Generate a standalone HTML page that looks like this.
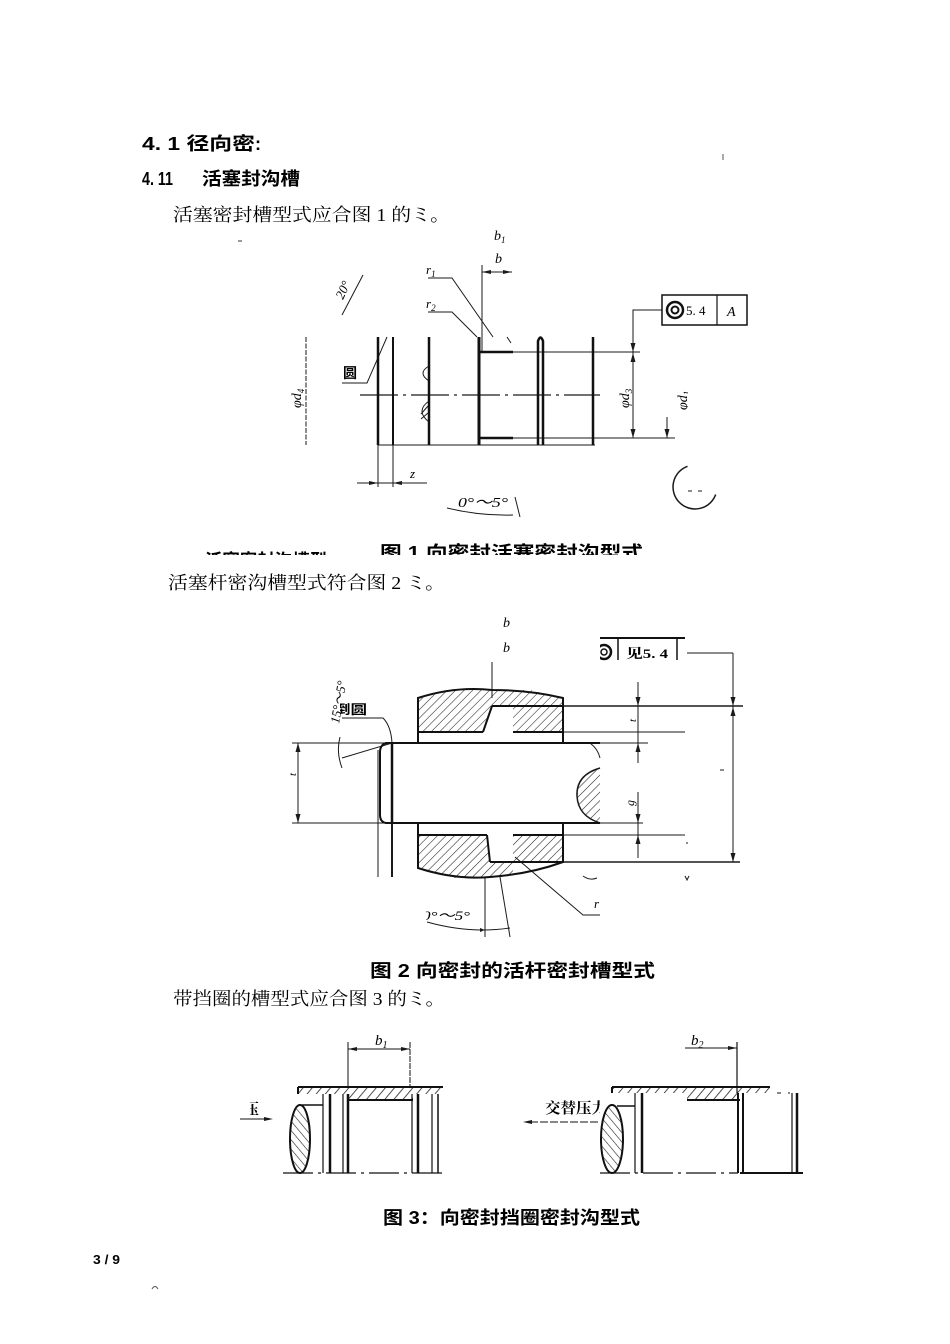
<!DOCTYPE html>
<html><head><meta charset="utf-8"><style>
html,body{margin:0;padding:0;background:#fff;}
svg{display:block}
.t{font-family:"Liberation Serif","Noto Serif CJK SC",serif;}
.h{font-family:"Liberation Sans","Noto Sans CJK SC",sans-serif;font-weight:bold;}
.i{font-family:"Liberation Serif",serif;font-style:italic;}
</style></head><body>
<svg width="950" height="1344" viewBox="0 0 950 1344" xmlns="http://www.w3.org/2000/svg">
<defs>
<pattern id="hf" width="6" height="6" patternUnits="userSpaceOnUse" patternTransform="rotate(45)"><line x1="0" y1="0" x2="0" y2="6" stroke="#222" stroke-width="1.1"/></pattern>
<pattern id="hp" width="7" height="7" patternUnits="userSpaceOnUse" patternTransform="rotate(40)"><line x1="0" y1="0" x2="0" y2="7" stroke="#222" stroke-width="1.6"/></pattern>
<pattern id="hb" width="6" height="6" patternUnits="userSpaceOnUse" patternTransform="rotate(-40)"><line x1="0" y1="0" x2="0" y2="6" stroke="#222" stroke-width="1.2"/></pattern>
<clipPath id="c1"><rect x="0" y="530" width="950" height="25"/></clipPath>
<clipPath id="c2"><rect x="0" y="0" width="262" height="200"/></clipPath>
<clipPath id="c3"><rect x="0" y="600" width="950" height="400"/></clipPath>
<clipPath id="c4"><rect x="340" y="690" width="100" height="40"/></clipPath>
<clipPath id="c5"><rect x="300" y="670" width="100" height="80"/></clipPath>
<clipPath id="c6"><rect x="250" y="1090" width="20" height="30"/></clipPath>
<clipPath id="c7"><rect x="500" y="1090" width="100" height="30"/></clipPath>
<clipPath id="c8"><rect x="426" y="900" width="100" height="30"/></clipPath>
<clipPath id="c9"><rect x="580" y="890" width="20" height="30"/></clipPath>
<clipPath id="c10"><rect x="600" y="640" width="20" height="25"/></clipPath>
<clipPath id="c11"><rect x="670" y="370" width="18" height="50"/></clipPath>
<clipPath id="c12"><rect x="330" y="260" width="40" height="50"/></clipPath>
</defs>

<!-- Headings / text -->
<text class="h" x="142" y="150" font-size="18" textLength="113" lengthAdjust="spacingAndGlyphs">4. 1 径向密</text>
<text class="h" x="255" y="150" font-size="18" clip-path="url(#c2)">:</text>
<text class="h" x="142" y="185" font-size="18" textLength="31" lengthAdjust="spacingAndGlyphs">4. 11</text>
<text class="h" x="202" y="185" font-size="18" textLength="98" lengthAdjust="spacingAndGlyphs">活塞封沟槽</text>
<text class="t" x="173" y="221" font-size="18" textLength="277" lengthAdjust="spacingAndGlyphs">活塞密封槽型式应合图 1 的ミ。</text>
<line x1="238" y1="241" x2="242" y2="241" stroke="#333" stroke-width="1"/>
<line x1="723" y1="154" x2="723" y2="160" stroke="#555" stroke-width="1"/>

<!-- FIGURE 1 -->
<g stroke="#1a1a1a" fill="none" stroke-width="1">
 <line x1="482" y1="265" x2="482" y2="352"/>
 <line x1="482" y1="272" x2="512" y2="272"/>
 <polyline points="428,278 452,278 493,337"/>
 <polyline points="428,312 452,312 477,337"/>
 <line x1="363" y1="275" x2="342" y2="315"/>
 <polyline points="387,337 367,383 342,383"/>
 <line x1="306" y1="337" x2="306" y2="445" stroke-dasharray="5 1.5"/>
 <line x1="360" y1="395" x2="600" y2="395" stroke-width="1.3" stroke-dasharray="38 5 3 5"/>
 <line x1="378" y1="445" x2="595" y2="445"/>
 <line x1="513" y1="352" x2="640" y2="352"/>
 <line x1="513" y1="438" x2="675" y2="438"/>
 <polyline points="662,310 633,310 633,438"/>
 <line x1="667" y1="417" x2="667" y2="438"/>
 <line x1="357" y1="483" x2="427" y2="483"/>
 <line x1="378" y1="445" x2="378" y2="487"/>
 <line x1="393" y1="445" x2="393" y2="487"/>
 <path d="M447,508 Q480,516 513,515"/>
 <line x1="515" y1="497" x2="520" y2="517"/>
 <path d="M687.5,466.3 A22,22 0 1 0 715.7,494.5" stroke-width="1.5"/>
 <line x1="688" y1="491" x2="692" y2="491"/>
 <line x1="698" y1="491" x2="702" y2="491"/>
 <path d="M429,366 Q417,373 429,381"/>
 <path d="M429,401 Q415,411 429,422"/>
 <line x1="421" y1="414" x2="428" y2="406"/>
 <line x1="421" y1="419" x2="428" y2="413"/>
 <line x1="507" y1="337" x2="511" y2="343"/>
</g>
<g fill="#1a1a1a">
 <polygon points="482,272 491,270 491,274"/>
 <polygon points="512,272 503,270 503,274"/>
 <polygon points="633,352 630.5,343 635.5,343"/>
 <polygon points="633,353 630.5,362 635.5,362"/>
 <polygon points="633,438 630.5,429 635.5,429"/>
 <polygon points="667,438 664.5,429 669.5,429"/>
 <polygon points="378,483 369,481 369,485"/>
 <polygon points="393,483 402,481 402,485"/>
</g>
<g stroke="#111" fill="none" stroke-width="2.5">
 <line x1="378" y1="337" x2="378" y2="445"/>
 <line x1="393" y1="337" x2="393" y2="445" stroke-width="2"/>
 <line x1="429" y1="337" x2="429" y2="445"/>
 <line x1="479" y1="337" x2="479" y2="445" stroke-width="3"/>
 <line x1="479" y1="352" x2="513" y2="352"/>
 <line x1="479" y1="438" x2="513" y2="438"/>
 <path d="M538,445 L538,341 Q540.5,334 543,341 L543,445"/>
 <line x1="593" y1="337" x2="593" y2="445"/>
</g>
<rect x="662" y="295" width="85" height="30" fill="none" stroke="#111" stroke-width="1.5"/>
<line x1="717" y1="295" x2="717" y2="325" stroke="#111" stroke-width="1.2"/>
<circle cx="675" cy="310" r="8" fill="none" stroke="#111" stroke-width="2.5"/>
<circle cx="675" cy="310" r="3.5" fill="none" stroke="#111" stroke-width="2"/>
<text class="t" x="686" y="315" font-size="13">5. 4</text>
<text class="i" x="727" y="316" font-size="14">A</text>

<text class="i" x="494" y="240" font-size="14">b<tspan font-size="9" dy="3">1</tspan></text>
<text class="i" x="495" y="263" font-size="14">b</text>
<text class="i" x="426" y="274" font-size="13">r<tspan font-size="9" dy="3">1</tspan></text>
<text class="i" x="426" y="308" font-size="13">r<tspan font-size="9" dy="3">2</tspan></text>
<g clip-path="url(#c12)"><text class="i" transform="translate(343,300) rotate(-65)" font-size="13">20°</text></g>
<text class="h" x="343" y="378" font-size="14">圆</text>
<text class="i" transform="translate(301,408) rotate(-90)" font-size="14">φd<tspan font-size="9" dy="3">4</tspan></text>
<text class="i" transform="translate(629,408) rotate(-90)" font-size="14">φd<tspan font-size="9" dy="3">3</tspan></text>
<g clip-path="url(#c11)"><text class="i" transform="translate(687,410) rotate(-90)" font-size="14">φd<tspan font-size="9" dy="3">1</tspan></text></g>
<text class="i" x="410" y="478" font-size="13">z</text>
<text class="i" x="458" y="507" font-size="14" textLength="50" lengthAdjust="spacingAndGlyphs">0°～5°</text>

<g clip-path="url(#c1)">
 <text class="h" x="380" y="559" font-size="18" textLength="263" lengthAdjust="spacingAndGlyphs">图 1 向密封活塞密封沟型式</text>
 <text class="h" x="205" y="567" font-size="18" textLength="122" lengthAdjust="spacingAndGlyphs">活塞密封沟槽型</text>
</g>

<text class="t" x="168" y="589" font-size="18" textLength="277" lengthAdjust="spacingAndGlyphs">活塞杆密沟槽型式符合图 2 ミ。</text>

<!-- FIGURE 2 -->
<polygon points="418,699 455,689 492,690 492,706 483,732 418,732" fill="url(#hf)"/>
<polygon points="492,690 530,690 563,698 563,706 492,706" fill="url(#hf)"/>
<polygon points="513,706 563,706 563,732 513,732" fill="url(#hf)"/>
<polygon points="418,835 487,835 490,862 490,877 455,878 418,868" fill="url(#hf)"/>
<polygon points="490,862 513,862 513,876 490,877" fill="url(#hf)"/>
<polygon points="513,835 563,835 563,862 513,862" fill="url(#hf)"/>
<path d="M600,768 Q576,775 577,796 Q578,816 600,823 Z" fill="url(#hf)"/>

<g stroke="#1a1a1a" fill="none" stroke-width="1">
 <line x1="492" y1="662" x2="492" y2="698"/>
 <line x1="563" y1="706" x2="743" y2="706" stroke-width="1.5"/>
 <line x1="563" y1="732" x2="685" y2="732"/>
 <line x1="292" y1="743" x2="392" y2="743"/>
 <line x1="600" y1="743" x2="648" y2="743"/>
 <line x1="292" y1="823" x2="392" y2="823"/>
 <line x1="600" y1="823" x2="643" y2="823"/>
 <line x1="563" y1="835" x2="685" y2="835"/>
 <line x1="563" y1="862" x2="740" y2="862" stroke-width="1.5"/>
 <line x1="733" y1="653" x2="733" y2="862"/>
 <line x1="687" y1="653" x2="733" y2="653"/>
 <line x1="638" y1="682" x2="638" y2="763"/>
 <line x1="638" y1="792" x2="638" y2="858"/>
 <line x1="298" y1="743" x2="298" y2="823"/>
 <line x1="378" y1="750" x2="378" y2="877"/>
 <line x1="392" y1="823" x2="392" y2="877" stroke-width="2"/>
 <path d="M342,718 L383,718 Q391,726 392,743"/>
 <path d="M340,737 Q336,752 342,768"/>
 <line x1="342" y1="758" x2="392" y2="743"/>
 <polyline points="515,857 583,915 600,915"/>
 <line x1="485" y1="877" x2="485" y2="937"/>
 <line x1="500" y1="877" x2="510" y2="937"/>
 <path d="M427,922 Q470,934 510,928"/>
 <path d="M583,876 Q590,881 597,878"/>
 <path d="M590,743 Q598,749 600,758"/>
 <path d="M600,768 Q576,775 577,796 Q578,816 600,823" stroke-width="1.5"/>
 <line x1="720" y1="770" x2="724" y2="770"/>
 <line x1="686" y1="843" x2="688" y2="843"/>
 <path d="M685,876 L687,880 L689,876"/>
</g>
<g fill="#1a1a1a">
 <polygon points="733,706 730.5,697 735.5,697"/>
 <polygon points="733,707 730.5,716 735.5,716"/>
 <polygon points="733,862 730.5,853 735.5,853"/>
 <polygon points="638,706 635.5,697 640.5,697"/>
 <polygon points="638,743 635.5,752 640.5,752"/>
 <polygon points="638,823 635.5,814 640.5,814"/>
 <polygon points="638,835 635.5,844 640.5,844"/>
 <polygon points="298,743 295.5,752 300.5,752"/>
 <polygon points="298,823 295.5,814 300.5,814"/>
 <polygon points="485,930 480,928 480,932"/>
</g>
<g stroke="#111" fill="none" stroke-width="2">
 <path d="M418,743 L418,698 Q455,686 492,690 Q530,690 563,698 L563,743"/>
 <line x1="418" y1="732" x2="483" y2="732"/>
 <line x1="483" y1="732" x2="492" y2="706"/>
 <line x1="492" y1="706" x2="563" y2="706"/>
 <line x1="513" y1="732" x2="563" y2="732"/>
 <path d="M418,823 L418,868 Q455,880 490,877 Q530,874 563,862 L563,823"/>
 <line x1="418" y1="835" x2="487" y2="835"/>
 <line x1="487" y1="835" x2="490" y2="862"/>
 <line x1="490" y1="862" x2="563" y2="862"/>
 <line x1="513" y1="835" x2="563" y2="835"/>
 <line x1="392" y1="743" x2="600" y2="743"/>
 <line x1="392" y1="823" x2="600" y2="823"/>
 <line x1="392" y1="743" x2="392" y2="823" stroke-width="2.5"/>
 <path d="M392,743 L386,743 Q380,745 380,752 L380,815 Q380,822 386,823 L392,823"/>
</g>
<line x1="600" y1="638" x2="685" y2="638" stroke="#111" stroke-width="2"/>
<line x1="618" y1="638" x2="618" y2="660" stroke="#111" stroke-width="1.5"/>
<line x1="677" y1="638" x2="677" y2="660" stroke="#111" stroke-width="1.5"/>
<g clip-path="url(#c10)">
 <circle cx="604" cy="652" r="7" fill="none" stroke="#111" stroke-width="2.5"/>
 <circle cx="604" cy="652" r="3" fill="none" stroke="#111" stroke-width="1.5"/>
</g>
<text class="t" x="626" y="658" font-size="13" font-weight="bold" textLength="42" lengthAdjust="spacingAndGlyphs">见5. 4</text>

<text class="i" x="503" y="627" font-size="14">b</text>
<text class="i" x="503" y="652" font-size="14">b</text>
<text class="i" transform="translate(636,722) rotate(-90)" font-size="11">t</text>
<text class="i" transform="translate(634,806) rotate(-90)" font-size="12">g</text>
<text class="i" transform="translate(296,776) rotate(-90)" font-size="11">t</text>
<g clip-path="url(#c9)"><text class="i" x="594" y="908" font-size="13">r</text></g>
<g clip-path="url(#c8)"><text class="i" x="422" y="920" font-size="13" textLength="48" lengthAdjust="spacingAndGlyphs">0°～5°</text></g>
<g clip-path="url(#c5)"><text class="i" transform="translate(339,724) rotate(-80)" font-size="13">15°～5°</text></g>
<g clip-path="url(#c4)"><text class="h" x="334" y="714" font-size="13" textLength="33" lengthAdjust="spacingAndGlyphs">倒圆</text></g>

<text class="h" x="370" y="977" font-size="18" textLength="285" lengthAdjust="spacingAndGlyphs">图 2  向密封的活杆密封槽型式</text>

<text class="t" x="173" y="1005" font-size="18" textLength="272" lengthAdjust="spacingAndGlyphs">带挡圈的槽型式应合图 3 的ミ。</text>

<!-- FIGURE 3 -->
<rect x="298" y="1087" width="145" height="7" fill="url(#hp)"/>
<rect x="348" y="1094" width="65" height="6" fill="url(#hp)"/>
<rect x="612" y="1087" width="158" height="6" fill="url(#hp)"/>
<rect x="687" y="1093" width="53" height="7" fill="url(#hp)"/>
<ellipse cx="300" cy="1139" rx="10" ry="34" fill="url(#hb)" stroke="#111" stroke-width="2"/>
<ellipse cx="612" cy="1139" rx="11" ry="34" fill="url(#hb)" stroke="#111" stroke-width="2"/>
<g stroke="#111" fill="none">
 <line x1="298" y1="1087" x2="443" y2="1087" stroke-width="2"/>
 <line x1="298" y1="1087" x2="298" y2="1094" stroke-width="2"/>
 <line x1="348" y1="1042" x2="348" y2="1087" stroke-width="1"/>
 <line x1="410" y1="1042" x2="410" y2="1087" stroke-width="1" stroke-dasharray="6 1"/>
 <line x1="348" y1="1049" x2="410" y2="1049" stroke-width="1"/>
 <line x1="348" y1="1100" x2="413" y2="1100" stroke-width="2"/>
 <line x1="323" y1="1094" x2="323" y2="1173" stroke-width="1.2"/>
 <line x1="330" y1="1094" x2="330" y2="1173" stroke-width="2.5"/>
 <line x1="343" y1="1094" x2="343" y2="1173" stroke-width="1.2"/>
 <line x1="348" y1="1094" x2="348" y2="1173" stroke-width="2.5"/>
 <line x1="412" y1="1094" x2="412" y2="1173" stroke-width="1.2"/>
 <line x1="418" y1="1094" x2="418" y2="1173" stroke-width="2.5"/>
 <line x1="432" y1="1094" x2="432" y2="1173" stroke-width="1.2"/>
 <line x1="438" y1="1094" x2="438" y2="1173" stroke-width="1.5"/>
 <line x1="302" y1="1105" x2="323" y2="1105" stroke-width="1.5"/>
 <line x1="283" y1="1173" x2="443" y2="1173" stroke-width="1.2" stroke-dasharray="30 5 3 5"/>
 <line x1="240" y1="1119" x2="266" y2="1119" stroke-width="1"/>

 <line x1="612" y1="1087" x2="770" y2="1087" stroke-width="2"/>
 <line x1="612" y1="1087" x2="612" y2="1093" stroke-width="2"/>
 <line x1="777" y1="1093" x2="781" y2="1093" stroke-width="1"/>
 <line x1="788" y1="1093" x2="790" y2="1093" stroke-width="1"/>
 <line x1="687" y1="1100" x2="740" y2="1100" stroke-width="2"/>
 <line x1="635" y1="1093" x2="635" y2="1173" stroke-width="1.2"/>
 <line x1="642" y1="1093" x2="642" y2="1173" stroke-width="2.5"/>
 <line x1="738" y1="1093" x2="738" y2="1173" stroke-width="2"/>
 <line x1="743" y1="1093" x2="743" y2="1173" stroke-width="2"/>
 <line x1="792" y1="1093" x2="792" y2="1173" stroke-width="1.2"/>
 <line x1="797" y1="1093" x2="797" y2="1173" stroke-width="2.5"/>
 <line x1="617" y1="1106" x2="635" y2="1106" stroke-width="1.5"/>
 <line x1="530" y1="1122" x2="600" y2="1122" stroke-width="1" stroke-dasharray="8 2"/>
 <line x1="737" y1="1042" x2="737" y2="1093" stroke-width="1.2"/>
 <line x1="685" y1="1048" x2="737" y2="1048" stroke-width="1"/>
 <line x1="600" y1="1173" x2="738" y2="1173" stroke-width="1.2" stroke-dasharray="30 5 3 5"/>
 <line x1="740" y1="1173" x2="803" y2="1173" stroke-width="2"/>
</g>
<g fill="#1a1a1a">
 <polygon points="348,1049 357,1047 357,1051"/>
 <polygon points="410,1049 401,1047 401,1051"/>
 <polygon points="273,1119 264,1117 264,1121"/>
 <polygon points="523,1122 532,1120 532,1124"/>
 <polygon points="737,1048 728,1046 728,1050"/>
</g>
<text class="i" x="375" y="1045" font-size="15">b<tspan font-size="10" dy="3">1</tspan></text>
<text class="i" x="691" y="1045" font-size="15">b<tspan font-size="10" dy="3">2</tspan></text>
<g clip-path="url(#c6)"><text class="t" x="244" y="1114" font-size="15" font-weight="bold">压</text></g>
<g clip-path="url(#c7)"><text class="t" x="545" y="1113" font-size="15" font-weight="bold" textLength="62" lengthAdjust="spacingAndGlyphs">交替压力</text></g>

<text class="h" x="383" y="1224" font-size="18" textLength="257" lengthAdjust="spacingAndGlyphs">图 3：向密封挡圈密封沟型式</text>

<text x="93" y="1264" font-family="Liberation Sans, sans-serif" font-weight="bold" font-size="13" textLength="27" lengthAdjust="spacingAndGlyphs">3 / 9</text>
<path d="M152,1289 Q155,1284 158,1289" fill="none" stroke="#555" stroke-width="1"/>
</svg>
</body></html>
